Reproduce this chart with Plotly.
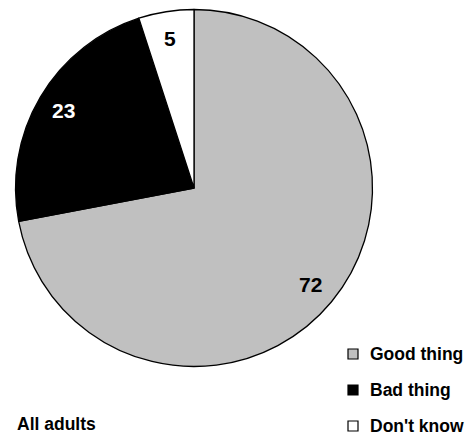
import math
import plotly.graph_objects as go

categories = ["Good thing", "Bad thing", "Don't know"]
values = [72, 23, 5]
slice_colors = ["#c0c0c0", "#000000", "#ffffff"]
label_colors = ["#000000", "#ffffff", "#000000"]
subtitle = "All adults"

W, H = 472, 435
cx_px, cy_px, r_px = 194.0, 188.0, 178.5
FONT = "Liberation Sans"

fig = go.Figure(go.Pie(
    labels=categories, values=values, sort=False, direction="clockwise",
    rotation=0, textinfo="none", hoverinfo="label+value",
    marker=dict(colors=slice_colors, line=dict(color="#000000", width=1.3)),
    domain=dict(x=[(cx_px - r_px) / W, (cx_px + r_px) / W],
                y=[(H - cy_px - r_px) / H, (H - cy_px + r_px) / H]),
    showlegend=False,
))

# value labels on slice bisectors
total = sum(values)
cum = 0
annotations = []
for v, col in zip(values, label_colors):
    mid = (cum + v / 2) / total * 2 * math.pi
    cum += v
    d = 0.85 * r_px
    x_px = cx_px + d * math.sin(mid)
    y_px = cy_px - d * math.cos(mid)
    annotations.append(dict(x=x_px / W, y=1 - y_px / H, xref="paper", yref="paper",
                            xanchor="center", yanchor="middle",
                            text=str(v), showarrow=False,
                            font=dict(family=FONT, size=21, color=col, weight="bold")))

# manual legend
shapes = []
leg_x, leg_y0, leg_dy, sq = 348, 354, 36.0, 10
for i, (lab, col) in enumerate(zip(categories, slice_colors)):
    yc = leg_y0 + i * leg_dy
    shapes.append(dict(type="rect", xref="paper", yref="paper",
                       x0=leg_x / W, x1=(leg_x + sq) / W,
                       y0=1 - (yc + sq / 2) / H, y1=1 - (yc - sq / 2) / H,
                       fillcolor=col, line=dict(color="#000000", width=1.2)))
    annotations.append(dict(x=(leg_x + 21) / W, y=1 - yc / H, xref="paper", yref="paper",
                            xanchor="left", yanchor="middle", text=lab, showarrow=False,
                            borderpad=0,
                            font=dict(family=FONT, size=17.5, color="#000000", weight="bold")))

annotations.append(dict(x=16 / W, y=1 - 424 / H, xref="paper", yref="paper",
                        xanchor="left", yanchor="middle", text=subtitle, showarrow=False,
                        borderpad=0,
                        font=dict(family=FONT, size=17.5, color="#000000", weight="bold")))

fig.update_layout(width=W, height=H, margin=dict(l=0, r=0, t=0, b=0),
                  paper_bgcolor="#ffffff", plot_bgcolor="#ffffff",
                  annotations=annotations, shapes=shapes)

fig.write_html("out.html")
